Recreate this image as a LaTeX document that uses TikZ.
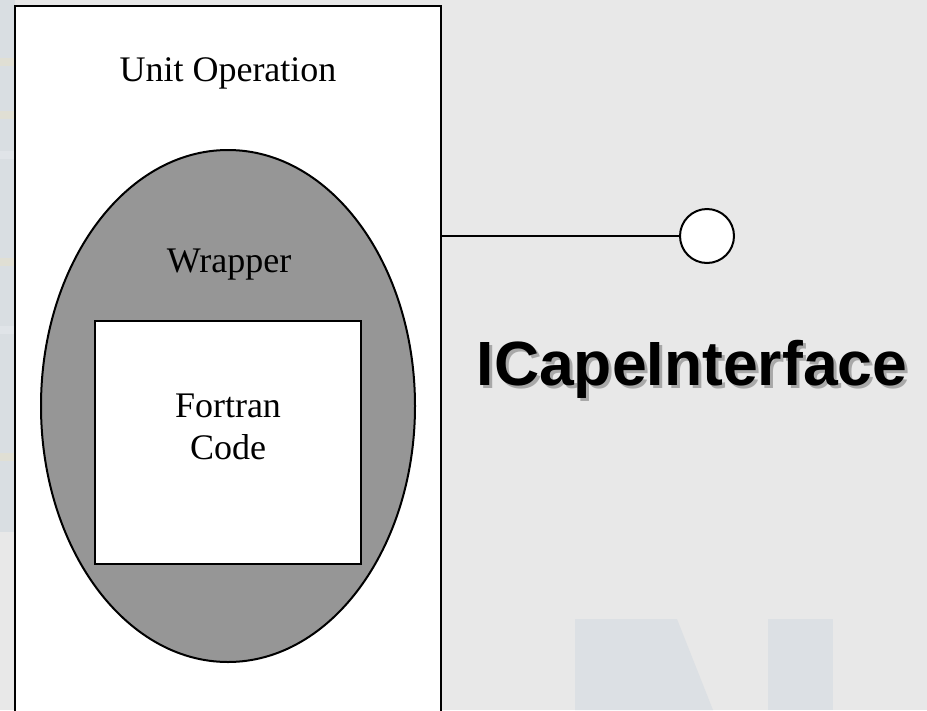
\documentclass[tikz,border=0pt]{standalone}
\usepackage{fontspec}
\setmainfont{Liberation Serif}
\newfontfamily\headfont{Liberation Sans}
\usetikzlibrary{shapes.geometric}
\definecolor{bgray}{HTML}{E8E8E8}
\definecolor{stripblue}{HTML}{D9DEE2}
\definecolor{stripyellow}{HTML}{E0DFD4}
\definecolor{stripwhite}{HTML}{E0E4E8}
\definecolor{markblue}{HTML}{DCE0E4}
\definecolor{wrapgray}{HTML}{969696}
\definecolor{shadowgray}{HTML}{A8A8A8}
\newcommand{\dropshadowed}[1]{\rlap{\hspace{3pt}\raisebox{-3pt}{\textcolor{shadowgray}{#1}}}#1}
\begin{document}
\begin{tikzpicture}[x=1pt,y=-1pt,
  every node/.style={inner sep=0pt, outer sep=0pt},
  serif36/.style={font=\fontsize{36}{42}\selectfont},
  boxline/.style={draw=black, line width=2pt},
  title/.style={font=\headfont\bfseries\fontsize{62.5}{72}\selectfont, anchor=base}]
  % page and backdrop
  \useasboundingbox (0,0) rectangle (927,710);
  \fill[bgray] (0,0) rectangle (927,710);
  \fill[stripblue] (0,0) rectangle (15,532);
  \foreach \yy in {62,115,262,457}
    \fill[stripyellow] (0,\yy-4) rectangle (15,\yy+4);
  \foreach \yy in {155,330}
    \fill[stripwhite] (0,\yy-4) rectangle (15,\yy+4);
  % faint letter shapes in the lower right
  \fill[markblue] (575,619) -- (677,619) -- (713,710) -- (575,710) -- cycle;
  \fill[markblue] (768,619) rectangle (833,710);
  % unit operation box
  \node (unit) [boxline, line width=2.5pt, fill=white, anchor=north west,
        minimum width=426pt, minimum height=716pt] at (15,6) {};
  \node (unitlbl) [serif36, anchor=base] at (228,81) {Unit Operation};
  % wrapper ellipse
  \node (wrap) [ellipse, boxline, fill=wrapgray,
        minimum width=374pt, minimum height=512pt] at (228,406) {};
  \node (wraplbl) [serif36, anchor=base] at (229,272) {Wrapper};
  % fortran code box
  \node (code) [boxline, fill=white,
        minimum width=266pt, minimum height=243pt] at (228,442.5) {};
  \node (codelbl1) [serif36, anchor=base] at (228,417) {Fortran};
  \node (codelbl2) [serif36, anchor=base] at (228,459) {Code};
  % interface lollipop
  \node (iface) [circle, boxline, fill=white, minimum size=54pt] at (707,236) {};
  \draw[line width=1.8pt] (iface.west) -- (iface.west -| unit.east);
  % interface name with drop shadow
  \node (ifacelbl) [title] at (692,385) {\dropshadowed{ICapeInterface}};
\end{tikzpicture}
\end{document}
